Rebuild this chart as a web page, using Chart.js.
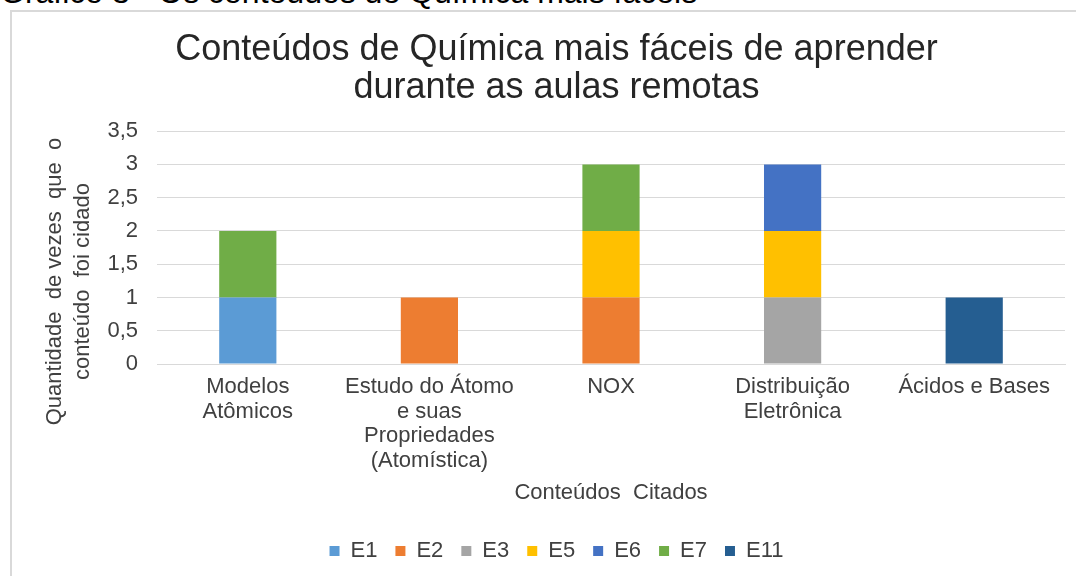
<!DOCTYPE html>
<html>
<head>
<meta charset="utf-8">
<script src="https://cdn.jsdelivr.net/npm/chart.js@4.4.1/dist/chart.umd.min.js"></script>
<style>
    body { margin: 0; background: #fff; overflow: hidden; }
    #caption {
        position: absolute; left: 0; top: -26px; margin: 0;
        font: 32px "Liberation Sans", Arial, sans-serif; color: #000; white-space: nowrap;
    }
    #frame {
        position: absolute; left: 10px; top: 10px; width: 1100px; height: 600px;
        border: 2px solid #d9d9d9; box-sizing: border-box;
    }
    #wrap { position: absolute; left: 0; top: 0; width: 1076px; height: 576px; }
</style>
</head>
<body>
<p id="caption">Gráfico 3 - Os conteúdos de Química mais fáceis</p>
<div id="frame"></div>
<div id="wrap"><canvas id="myChart" width="1076" height="576"></canvas></div>
<script>
const categories = [
    ['Modelos', 'Atômicos'],
    ['Estudo do Átomo', 'e suas', 'Propriedades', '(Atomística)'],
    'NOX',
    ['Distribuição', 'Eletrônica'],
    'Ácidos e Bases'
]
const E1  = [1, null, null, null, null]
const E2  = [null, 1, 1, null, null]
const E3  = [null, null, null, 1, null]
const E5  = [null, null, 1, 1, null]
const E6  = [null, null, null, 1, null]
const E7  = [1, null, 1, null, null]
const E11 = [null, null, null, null, 1]
const yTicks = [0, 0.5, 1, 1.5, 2, 2.5, 3, 3.5]
const yTitle = ['Quantidade  de vezes  que  o', 'conteúdo  foi cidado']

const font = '"Liberation Sans", Arial, sans-serif'
const txt = '#404040'

let datasets = [
    { label: 'E1',  data: E1,  backgroundColor: '#5B9BD5' },
    { label: 'E2',  data: E2,  backgroundColor: '#ED7D31' },
    { label: 'E3',  data: E3,  backgroundColor: '#A5A5A5' },
    { label: 'E5',  data: E5,  backgroundColor: '#FFC000' },
    { label: 'E6',  data: E6,  backgroundColor: '#4472C4' },
    { label: 'E7',  data: E7,  backgroundColor: '#70AD47' },
    { label: 'E11', data: E11, backgroundColor: '#255E91' },
]
datasets.forEach((d) => {
    d.categoryPercentage = 0.63
    d.barPercentage = 0.5
})

// y title like Excel: centred a bit lower than the plot area
const yTitlePlugin = {
    id: 'yTitle',
    afterDraw(chart) {
        const c = chart.ctx
        const area = chart.chartArea
        const cy = (area.top + area.bottom) / 2 + 34
        c.save()
        c.fillStyle = txt
        c.font = '22px ' + font
        c.textAlign = 'center'
        c.textBaseline = 'middle'
        yTitle.forEach((line, i) => {
            c.save()
            c.translate(55 + i * 28, cy)
            c.rotate(-Math.PI / 2)
            c.fillText(line, 0, 0)
            c.restore()
        })
        c.restore()
    }
}

const ctx = document.getElementById('myChart').getContext('2d')

const config = {
    type: 'bar',
    data: { labels: categories, datasets: datasets },
    plugins: [yTitlePlugin],
    options: {
        responsive: false,
        animation: false,
        layout: { padding: { left: 48, right: 11, top: 32, bottom: 4 } },
        plugins: {
            title: {
                display: true,
                text: ['Conteúdos de Química mais fáceis de aprender', 'durante as aulas remotas'],
                color: '#262626',
                font: { family: font, size: 36, weight: 'normal', lineHeight: 1.03 },
                padding: { top: 0, bottom: 25 }
            },
            legend: {
                position: 'bottom',
                labels: {
                    color: txt,
                    boxWidth: 10,
                    boxHeight: 10,
                    padding: 18,
                    font: { family: font, size: 22 }
                }
            },
            tooltip: { enabled: false }
        },
        scales: {
            x: {
                stacked: true,
                grid: { display: false },
                border: { color: '#d9d9d9' },
                ticks: {
                    color: txt,
                    maxRotation: 0,
                    padding: 3,
                    font: { family: font, size: 22, lineHeight: 1.11 }
                },
                title: {
                    display: true,
                    text: 'Conteúdos  Citados',
                    color: txt,
                    font: { family: font, size: 22 },
                    padding: { top: 4, bottom: 16 }
                },
                afterFit: (scale) => { scale.height = 158 }
            },
            y: {
                stacked: true,
                min: 0,
                max: 3.5,
                afterBuildTicks: (scale) => { scale.ticks = yTicks.map((v) => ({ value: v })) },
                grid: { color: '#d9d9d9', drawTicks: false },
                border: { display: false },
                ticks: {
                    color: txt,
                    padding: 19,
                    font: { family: font, size: 22 },
                    callback: (v) => String(v).replace('.', ',')
                },
                afterFit: (scale) => { scale.width = 109 }
            }
        }
    }
}

this.myChart = new Chart(ctx, config)
</script>
</body>
</html>
